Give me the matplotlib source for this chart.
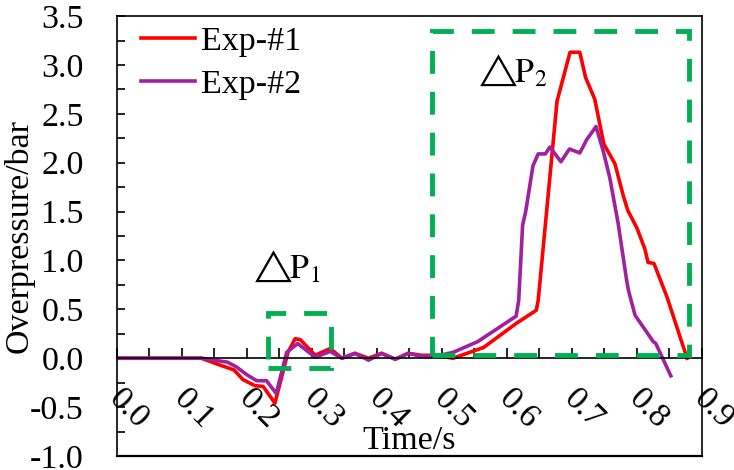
import matplotlib
matplotlib.use("Agg")
import matplotlib.pyplot as plt
from matplotlib.patches import Rectangle
from matplotlib.transforms import ScaledTranslation
from matplotlib.ticker import MultipleLocator, FormatStrFormatter

plt.rcParams['font.family'] = ['Liberation Serif', 'DejaVu Serif']
plt.rcParams['mathtext.fontset'] = 'stix'
plt.rcParams['axes.unicode_minus'] = False
plt.rcParams['font.size'] = 24.5

# Exp-#1 (red)
t1 = [0, 0.13, 0.15, 0.18, 0.194, 0.212, 0.225, 0.243, 0.263, 0.274, 0.282,
      0.305, 0.328, 0.346, 0.366, 0.387, 0.407, 0.428, 0.448, 0.469, 0.49,
      0.517, 0.564, 0.615, 0.645, 0.648, 0.677, 0.697, 0.712, 0.721, 0.735,
      0.749, 0.766, 0.779, 0.786, 0.8, 0.812, 0.817, 0.826, 0.846, 0.877]
p1 = [0, 0, -0.05, -0.12, -0.22, -0.28, -0.29, -0.46, 0.06, 0.2, 0.19,
      0.03, 0.1, 0.0, 0.05, 0.0, 0.05, -0.01, 0.05, 0.03, 0.03,
      0.0, 0.11, 0.36, 0.49, 0.59, 2.63, 3.13, 3.13, 2.87, 2.65,
      2.19, 1.99, 1.66, 1.51, 1.33, 1.12, 0.98, 0.97, 0.63, 0.0]

# Exp-#2 (purple)
t2 = [0, 0.13, 0.17, 0.184, 0.2, 0.215, 0.23, 0.245, 0.261, 0.278, 0.305,
      0.328, 0.346, 0.366, 0.387, 0.407, 0.428, 0.448, 0.469, 0.49, 0.517,
      0.555, 0.589, 0.614, 0.618, 0.624, 0.629, 0.64, 0.648, 0.659, 0.666,
      0.683, 0.696, 0.712, 0.723, 0.737, 0.748, 0.758, 0.771, 0.784, 0.787,
      0.797, 0.825, 0.829, 0.852]
p2 = [0, 0, -0.04, -0.09, -0.17, -0.23, -0.23, -0.36, 0.06, 0.15, 0.01,
      0.07, 0.0, 0.05, -0.02, 0.05, -0.01, 0.05, 0.02, 0.02, 0.06,
      0.17, 0.32, 0.43, 0.59, 1.36, 1.51, 1.97, 2.09, 2.09, 2.16,
      2.01, 2.14, 2.10, 2.24, 2.37, 2.12, 1.85, 1.38, 0.80, 0.69,
      0.44, 0.17, 0.15, -0.18]

# highlighted regions: (x0, x1, y0, y1)
box1 = (0.232, 0.329, -0.10, 0.46)
box2 = (0.485, 0.880, 0.03, 3.35)

fig = plt.figure(figsize=(7.34, 4.70), dpi=100)
ax = fig.add_axes([0.1594, 0.0298, 0.797, 0.936])

ax.plot(t1, p1, color='#FF0000', lw=2.6, label='Exp-#1')
ax.plot(t2, p2, color='#A020A0', lw=2.6, label='Exp-#2')

for x0, x1, y0, y1 in (box1, box2):
    ax.add_patch(Rectangle((x0, y0), x1 - x0, y1 - y0, fill=False,
                           edgecolor='#00B050', lw=3.5,
                           linestyle=(0, (4.7, 3.7)), zorder=3))

ax.text(0.258, 0.83, r'$\triangle\!\!\mathrm{P}_1$', ha='center', va='baseline')
ax.text(0.606, 2.83, r'$\triangle\!\!\mathrm{P}_2$', ha='center', va='baseline')

ax.set_xlim(0, 0.9)
ax.set_ylim(-1.0, 3.5)

ax.spines['bottom'].set_position(('data', 0))
for s in ax.spines.values():
    s.set_linewidth(1.2)
# bottom frame line of the box
ax.plot([0, 1], [0, 0], transform=ax.transAxes, color='k', lw=1.6, clip_on=False)

ax.xaxis.set_major_locator(MultipleLocator(0.1))
ax.xaxis.set_minor_locator(MultipleLocator(0.05))
ax.yaxis.set_major_locator(MultipleLocator(0.5))
ax.yaxis.set_minor_locator(MultipleLocator(0.25))
ax.xaxis.set_major_formatter(FormatStrFormatter('%.1f'))
ax.yaxis.set_major_formatter(FormatStrFormatter('%.1f'))

ax.tick_params(axis='x', which='both', direction='in', length=7, width=1.2, pad=18)
ax.tick_params(axis='y', which='both', direction='in', length=6, width=1.2, pad=24)
shift = ScaledTranslation(0.12, 0, fig.dpi_scale_trans)
for lbl in ax.get_xticklabels():
    lbl.set_rotation(-45)
    lbl.set_ha('center')
    lbl.set_transform(lbl.get_transform() + shift)

ax.set_xlabel('Time/s')
ax.xaxis.set_label_coords(0.5, 0.07)
ax.set_ylabel('Overpressure/bar')
ax.yaxis.set_label_coords(-0.140, 0.5)

ax.legend(loc='upper left', bbox_to_anchor=(0.012, 1.015), frameon=False,
          handlelength=1.6, handletextpad=0.15, labelspacing=0.35, borderpad=0)

fig.savefig('out.png', dpi=100)
